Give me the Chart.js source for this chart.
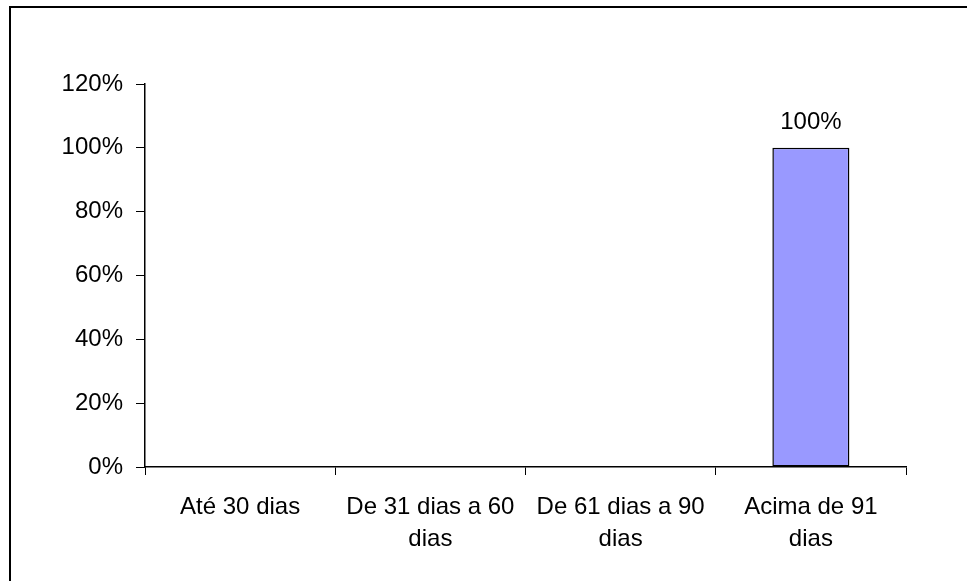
<!DOCTYPE html>
<html lang="pt">

<head>
    <meta charset="UTF-8">
    <script src="https://cdn.jsdelivr.net/npm/chart.js"></script>
    <title>Prazo</title>
    <style>
        html, body { margin: 0; padding: 0; background: #fff; }
        .grafico { width: 967px; height: 581px; position: relative; }
    </style>
</head>

<body>
    <div class="grafico">
        <canvas id="myChart" width="967" height="581"></canvas>
    </div>
</body>

</html>
<script>
    // dados do gráfico
    var categorias = [
        'Até 30 dias',
        ['De 31 dias a 60', 'dias'],
        ['De 61 dias a 90', 'dias'],
        ['Acima de 91', 'dias']
    ]
    var percentuais = [0, 0, 0, 100]
    var rotulosBarra = ['', '', '', '100%']
    var ticksY = [0, 20, 40, 60, 80, 100, 120]

    var fonte = { family: 'Arial, "Liberation Sans", sans-serif', size: 24 }

    // moldura em volta de tudo
    const moldura = {
        id: 'moldura',
        beforeDraw(chart) {
            const ctx = chart.ctx
            ctx.save()
            ctx.fillStyle = '#fff'
            ctx.fillRect(0, 0, chart.width, chart.height)
            ctx.strokeStyle = '#000'
            ctx.lineWidth = 2
            ctx.strokeRect(10, 7, chart.width + 20, chart.height + 20)
            ctx.restore()
        }
    }

    // rótulo em cima da barra
    const rotulos = {
        id: 'rotulos',
        afterDatasetsDraw(chart) {
            const ctx = chart.ctx
            const meta = chart.getDatasetMeta(0)
            ctx.save()
            ctx.font = fonte.size + 'px ' + fonte.family
            ctx.fillStyle = '#000'
            ctx.textAlign = 'center'
            ctx.textBaseline = 'middle'
            meta.data.forEach(function (bar, i) {
                if (rotulosBarra[i]) ctx.fillText(rotulosBarra[i], bar.x, bar.y - 25)
            })
            ctx.restore()
        }
    }

    const config = {
        type: 'bar',
        data: {
            labels: categorias,
            datasets: [{
                data: percentuais,
                backgroundColor: '#9999FF',
                borderColor: '#000',
                borderWidth: 1.5,
                borderSkipped: false,
                categoryPercentage: 1,
                barPercentage: 0.405
            }]
        },
        options: {
            responsive: false,
            animation: false,
            layout: { padding: { left: 0, top: 84, right: 61, bottom: 0 } },
            plugins: {
                legend: { display: false },
                tooltip: { enabled: false }
            },
            scales: {
                x: {
                    offset: true,
                    grid: { offset: true, drawOnChartArea: false, tickLength: 8, color: '#000', tickColor: '#000' },
                    border: { color: '#000', width: 1.5 },
                    ticks: { color: '#000', font: { ...fonte, lineHeight: 1.33 }, padding: 16, maxRotation: 0, autoSkip: false },
                    afterFit(scale) { scale.height = 114 }
                },
                y: {
                    min: 0,
                    max: 120,
                    afterBuildTicks(scale) { scale.ticks = ticksY.map(v => ({ value: v })) },
                    grid: { drawOnChartArea: false, tickLength: 9, color: '#000', tickColor: '#000' },
                    border: { color: '#000', width: 1.5 },
                    ticks: { color: '#000', font: fonte, padding: 13, callback: v => v + '%' },
                    afterFit(scale) { scale.width = 145 }
                }
            }
        },
        plugins: [moldura, rotulos]
    }

    let myChart = new Chart(document.getElementById('myChart'), config)
</script>
